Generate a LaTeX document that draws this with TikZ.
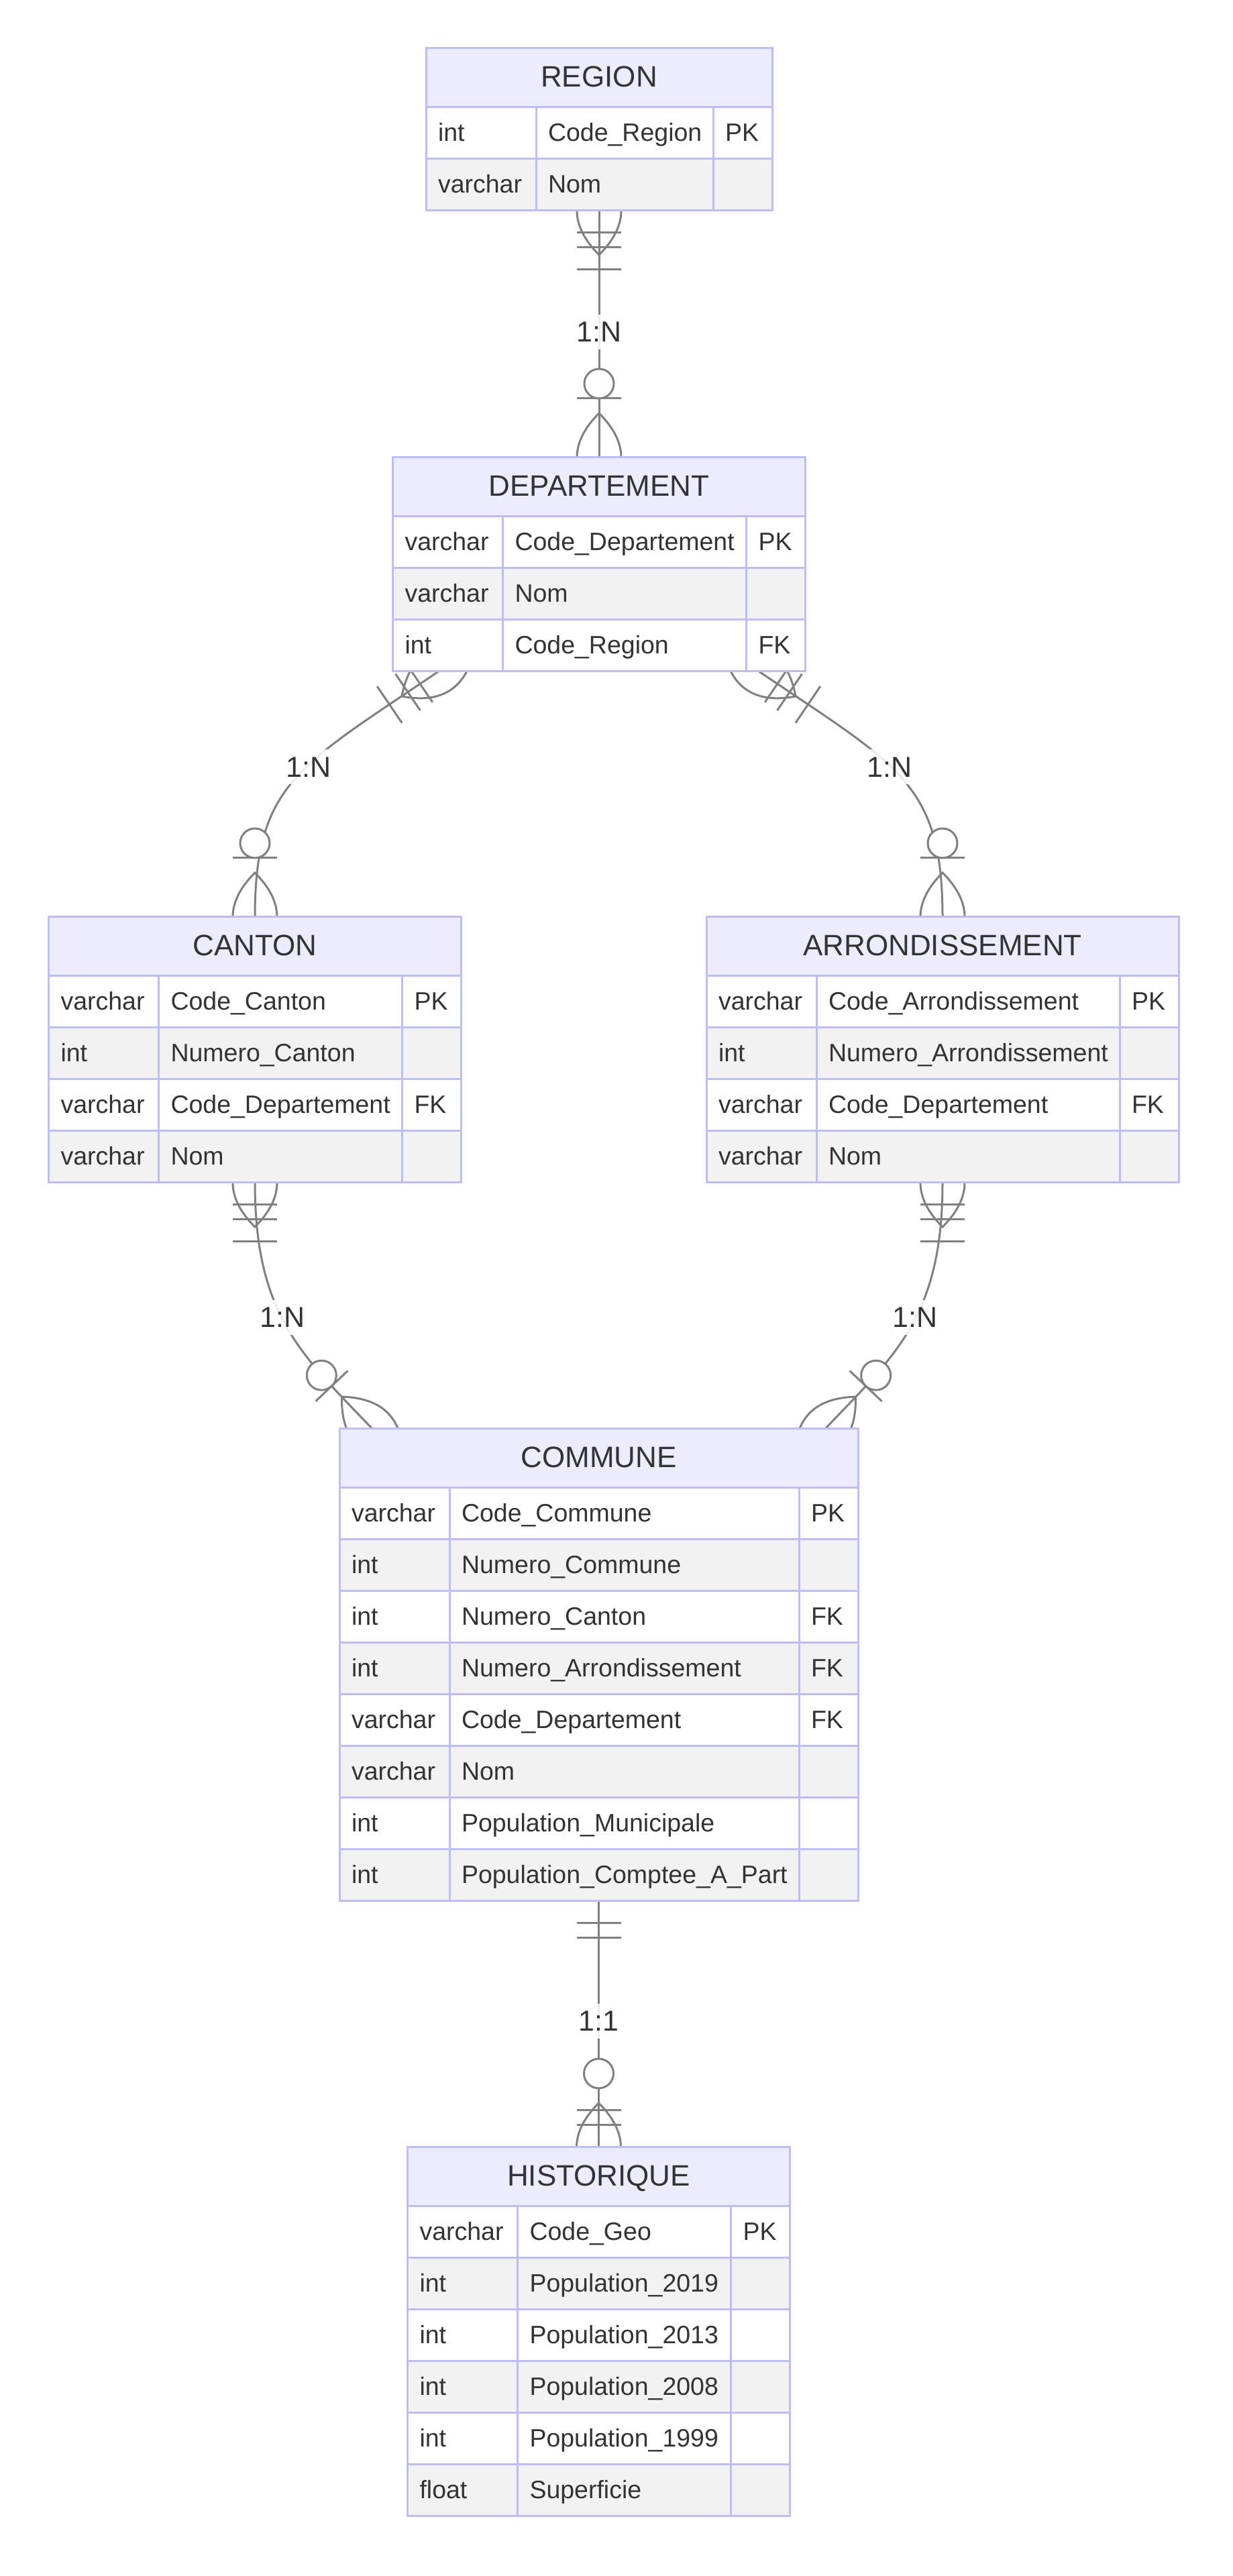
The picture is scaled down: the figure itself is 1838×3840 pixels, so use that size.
\documentclass[tikz,border=0pt]{standalone}
\usepackage{fontspec}
\setmainfont{Liberation Sans}
\usepackage{xcolor}
\usepackage{tikz}
\definecolor{erline}{RGB}{189,189,250}
\definecolor{erhead}{RGB}{236,236,255}
\definecolor{ergray}{RGB}{242,242,242}
\definecolor{ertext}{RGB}{51,51,51}
\definecolor{relgray}{RGB}{128,128,128}
\newcommand\cellfont{\fontsize{37.5pt}{45pt}\selectfont}
\newcommand\titlefont{\fontsize{44pt}{52pt}\selectfont}
\newcommand\cardfont{\fontsize{43pt}{50pt}\selectfont}
\lefthyphenmin=62
\pgfdeclarelayer{background}
\pgfsetlayers{background,main}
\tikzset{
  relline/.style={draw=relgray, line width=3pt},
  crowbars/.pic={
    \draw[relline] (-66,0) .. controls (-22,44) and (22,44) .. (66,0) .. controls (22,-44) and (-22,-44) .. (-66,0);
    \draw[relline] (33,-33) -- (33,33) (55,-33) -- (55,33) (88,-33) -- (88,33);
  },
  crowring/.pic={
    \draw[relline] (-66,0) .. controls (-22,44) and (22,44) .. (66,0) .. controls (22,-44) and (-22,-44) .. (-66,0);
    \draw[relline] (88,-33) -- (88,33);
    \draw[relline, fill=white] (110,0) circle[radius=22];
  },
  twobars/.pic={
    \draw[relline] (33,-33) -- (33,33) (55,-33) -- (55,33);
  },
  crowbarsring/.pic={
    \draw[relline] (-66,0) .. controls (-22,44) and (22,44) .. (66,0) .. controls (22,-44) and (-22,-44) .. (-66,0);
    \draw[relline] (33,-33) -- (33,33) (55,-33) -- (55,33);
    \draw[relline, fill=white] (110,0) circle[radius=22];
  }
}

\begin{document}
\begin{tikzpicture}[x=1pt, y=1pt,
    cell/.style = {draw=erline, line width=3pt, anchor=north west, minimum height=77pt, inner xsep=18pt, inner ysep=0pt, outer sep=0pt, align=left, text height=27pt, text depth=3pt, font=\cellfont, text=ertext},
    cellw/.style = {cell, fill=white},
    cellg/.style = {cell, fill=ergray},
    tcol/.style = {text width=128pt},
    kcol/.style = {text width=52pt},
    enthead/.style = {draw=erline, line width=3pt, fill=erhead, minimum height=88pt, inner sep=0pt, outer sep=0pt, font=\titlefont, text=ertext, text height=31.5pt, text depth=4.5pt},
    card/.style = {fill=white, fill opacity=0.85, text opacity=1, text=ertext, font=\cardfont, inner xsep=3pt, inner ysep=0pt, minimum height=52pt}]
  \useasboundingbox (0,0) rectangle (1838,3840);

  % REGION
  \node[enthead, minimum width=516pt] (region) at (893,3724) {REGION};
  \node[cellw, tcol] (region-1t) at (635,3680) {int}; \node[cellw, text width=228pt] (region-1n) at (799,3680) {Code\_Region}; \node[cellw, kcol] (region-1k) at (1063,3680) {PK};
  \node[cellg, tcol] (region-2t) at (635,3603) {varchar}; \node[cellg, text width=228pt] (region-2n) at (799,3603) {Nom}; \node[cellg, kcol] (region-2k) at (1063,3603) {};

  % DEPARTEMENT
  \node[enthead, minimum width=615pt] (departement) at (893,3114) {DEPARTEMENT};
  \node[cellw, tcol] (departement-1t) at (585.5,3070) {varchar}; \node[cellw, text width=327pt] (departement-1n) at (749.5,3070) {Code\_Departement}; \node[cellw, kcol] (departement-1k) at (1112.5,3070) {PK};
  \node[cellg, tcol] (departement-2t) at (585.5,2993) {varchar}; \node[cellg, text width=327pt] (departement-2n) at (749.5,2993) {Nom}; \node[cellg, kcol] (departement-2k) at (1112.5,2993) {};
  \node[cellw, tcol] (departement-3t) at (585.5,2916) {int}; \node[cellw, text width=327pt] (departement-3n) at (749.5,2916) {Code\_Region}; \node[cellw, kcol] (departement-3k) at (1112.5,2916) {FK};

  % CANTON
  \node[enthead, minimum width=615pt] (canton) at (380,2429) {CANTON};
  \node[cellw, tcol] (canton-1t) at (72.5,2385) {varchar}; \node[cellw, text width=327pt] (canton-1n) at (236.5,2385) {Code\_Canton}; \node[cellw, kcol] (canton-1k) at (599.5,2385) {PK};
  \node[cellg, tcol] (canton-2t) at (72.5,2308) {int}; \node[cellg, text width=327pt] (canton-2n) at (236.5,2308) {Numero\_Canton}; \node[cellg, kcol] (canton-2k) at (599.5,2308) {};
  \node[cellw, tcol] (canton-3t) at (72.5,2231) {varchar}; \node[cellw, text width=327pt] (canton-3n) at (236.5,2231) {Code\_Departement}; \node[cellw, kcol] (canton-3k) at (599.5,2231) {FK};
  \node[cellg, tcol] (canton-4t) at (72.5,2154) {varchar}; \node[cellg, text width=327pt] (canton-4n) at (236.5,2154) {Nom}; \node[cellg, kcol] (canton-4k) at (599.5,2154) {};

  % ARRONDISSEMENT
  \node[enthead, minimum width=704pt] (arrondissement) at (1405,2429) {ARRONDISSEMENT};
  \node[cellw, tcol] (arrondissement-1t) at (1053,2385) {varchar}; \node[cellw, text width=416pt] (arrondissement-1n) at (1217,2385) {Code\_Arrondissement}; \node[cellw, kcol] (arrondissement-1k) at (1669,2385) {PK};
  \node[cellg, tcol] (arrondissement-2t) at (1053,2308) {int}; \node[cellg, text width=416pt] (arrondissement-2n) at (1217,2308) {Numero\_Arrondissement}; \node[cellg, kcol] (arrondissement-2k) at (1669,2308) {};
  \node[cellw, tcol] (arrondissement-3t) at (1053,2231) {varchar}; \node[cellw, text width=416pt] (arrondissement-3n) at (1217,2231) {Code\_Departement}; \node[cellw, kcol] (arrondissement-3k) at (1669,2231) {FK};
  \node[cellg, tcol] (arrondissement-4t) at (1053,2154) {varchar}; \node[cellg, text width=416pt] (arrondissement-4n) at (1217,2154) {Nom}; \node[cellg, kcol] (arrondissement-4k) at (1669,2154) {};

  % COMMUNE
  \node[enthead, minimum width=773pt] (commune) at (892.5,1666) {COMMUNE};
  \node[cellw, tcol] (commune-1t) at (506,1622) {varchar}; \node[cellw, text width=485pt] (commune-1n) at (670,1622) {Code\_Commune}; \node[cellw, kcol] (commune-1k) at (1191,1622) {PK};
  \node[cellg, tcol] (commune-2t) at (506,1545) {int}; \node[cellg, text width=485pt] (commune-2n) at (670,1545) {Numero\_Commune}; \node[cellg, kcol] (commune-2k) at (1191,1545) {};
  \node[cellw, tcol] (commune-3t) at (506,1468) {int}; \node[cellw, text width=485pt] (commune-3n) at (670,1468) {Numero\_Canton}; \node[cellw, kcol] (commune-3k) at (1191,1468) {FK};
  \node[cellg, tcol] (commune-4t) at (506,1391) {int}; \node[cellg, text width=485pt] (commune-4n) at (670,1391) {Numero\_Arrondissement}; \node[cellg, kcol] (commune-4k) at (1191,1391) {FK};
  \node[cellw, tcol] (commune-5t) at (506,1314) {varchar}; \node[cellw, text width=485pt] (commune-5n) at (670,1314) {Code\_Departement}; \node[cellw, kcol] (commune-5k) at (1191,1314) {FK};
  \node[cellg, tcol] (commune-6t) at (506,1237) {varchar}; \node[cellg, text width=485pt] (commune-6n) at (670,1237) {Nom}; \node[cellg, kcol] (commune-6k) at (1191,1237) {};
  \node[cellw, tcol] (commune-7t) at (506,1160) {int}; \node[cellw, text width=485pt] (commune-7n) at (670,1160) {Population\_Municipale}; \node[cellw, kcol] (commune-7k) at (1191,1160) {};
  \node[cellg, tcol] (commune-8t) at (506,1083) {int}; \node[cellg, text width=485pt] (commune-8n) at (670,1083) {Population\_Comptee\_A\_Part}; \node[cellg, kcol] (commune-8k) at (1191,1083) {};

  % HISTORIQUE
  \node[enthead, minimum width=570pt] (historique) at (892.5,595) {HISTORIQUE};
  \node[cellw, tcol] (historique-1t) at (607.5,551) {varchar}; \node[cellw, text width=282pt] (historique-1n) at (771.5,551) {Code\_Geo}; \node[cellw, kcol] (historique-1k) at (1089.5,551) {PK};
  \node[cellg, tcol] (historique-2t) at (607.5,474) {int}; \node[cellg, text width=282pt] (historique-2n) at (771.5,474) {Population\_2019}; \node[cellg, kcol] (historique-2k) at (1089.5,474) {};
  \node[cellw, tcol] (historique-3t) at (607.5,397) {int}; \node[cellw, text width=282pt] (historique-3n) at (771.5,397) {Population\_2013}; \node[cellw, kcol] (historique-3k) at (1089.5,397) {};
  \node[cellg, tcol] (historique-4t) at (607.5,320) {int}; \node[cellg, text width=282pt] (historique-4n) at (771.5,320) {Population\_2008}; \node[cellg, kcol] (historique-4k) at (1089.5,320) {};
  \node[cellw, tcol] (historique-5t) at (607.5,243) {int}; \node[cellw, text width=282pt] (historique-5n) at (771.5,243) {Population\_1999}; \node[cellw, kcol] (historique-5k) at (1089.5,243) {};
  \node[cellg, tcol] (historique-6t) at (607.5,166) {float}; \node[cellg, text width=282pt] (historique-6n) at (771.5,166) {Superficie}; \node[cellg, kcol] (historique-6k) at (1089.5,166) {};

  % relations, under the boxes
  \begin{pgfonlayer}{background}
    \draw[relline] (region |- region-2t.south) -- (departement.north);
    \draw[relline] ([xshift=-14pt]departement-3t.south) .. controls +(214.15:250) and +(90:200) .. (canton.north);
    \draw[relline] ([xshift=-25pt]departement-3k.south) .. controls +(-34.15:250) and +(90:200) .. (arrondissement.north);
    \draw[relline] (canton |- canton-4t.south) .. controls +(-90:200) and +(133.5:150) .. ([xshift=49pt]commune.north west);
    \draw[relline] (arrondissement |- arrondissement-4t.south) .. controls +(-90:200) and +(46.5:150) .. ([xshift=-49pt]commune.north east);
    \draw[relline] (commune |- commune-8t.south) -- (historique.north);

    \pic[rotate=-90] at (region |- region-2t.south) {crowbars};
    \pic[rotate=90] at (departement.north) {crowring};
    \pic[rotate=214.15] at ([xshift=-14pt]departement-3t.south) {crowbars};
    \pic[rotate=-34.15] at ([xshift=-25pt]departement-3k.south) {crowbars};
    \pic[rotate=90] at (canton.north) {crowring};
    \pic[rotate=90] at (arrondissement.north) {crowring};
    \pic[rotate=-90] at (canton |- canton-4t.south) {crowbars};
    \pic[rotate=-90] at (arrondissement |- arrondissement-4t.south) {crowbars};
    \pic[rotate=133.5] at ([xshift=49pt]commune.north west) {crowring};
    \pic[rotate=46.5] at ([xshift=-49pt]commune.north east) {crowring};
    \pic[rotate=-90] at (commune |- commune-8t.south) {twobars};
    \pic[rotate=90] at (historique.north) {crowbarsring};
  \end{pgfonlayer}

  \node[card] (rd) at (893,3345) {1:N};
  \node[card] (dc) at (460,2696.5) {1:N};
  \node[card] (da) at (1326,2696.5) {1:N};
  \node[card] (cc) at (421,1876) {1:N};
  \node[card] (ac) at (1364,1876) {1:N};
  \node[card] (ch) at (892.5,827) {1:1};
\end{tikzpicture}
\end{document}
